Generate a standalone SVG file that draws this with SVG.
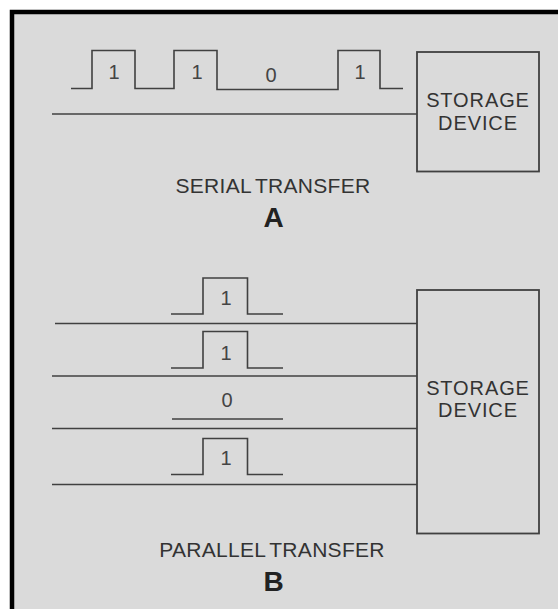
<svg xmlns="http://www.w3.org/2000/svg" width="558" height="609" viewBox="0 0 558 609">
<style>
.w{fill:none;stroke:#404040;stroke-width:1.6}
.box{fill:none;stroke:#404040;stroke-width:1.8}
.t{font-family:"Liberation Sans",Arial,sans-serif;fill:#333333}
.bit{font-size:20px;text-anchor:middle;fill:#444}
.lbl{font-size:20px;text-anchor:middle;letter-spacing:0.9px}
.cap{font-size:21px;text-anchor:middle;word-spacing:-2px;letter-spacing:0.3px}
.big{font-size:28px;font-weight:bold;text-anchor:middle;fill:#222}
</style>
<rect x="0" y="0" width="558" height="609" fill="#ffffff"/>
<rect x="12" y="12" width="548" height="600" fill="#dadada"/>
<path d="M12 609 V12 H558" fill="none" stroke="#000" stroke-width="4.5"/>

<g id="connectors">
<line class="w" x1="52" y1="114" x2="417" y2="114"/>
<line class="w" x1="55" y1="323.5" x2="417" y2="323.5"/>
<line class="w" x1="52" y1="376" x2="417" y2="376"/>
<line class="w" x1="52" y1="428.5" x2="417" y2="428.5"/>
<line class="w" x1="52" y1="484.5" x2="417" y2="484.5"/>
</g>

<g id="serial-signal">
<path class="w" d="M71 88.5 H92 V50.5 H135 V88.5 H174 V50.5 H217 V89.5 H338 V50.5 H380 V88.5 H403"/>
<text class="t bit" x="114" y="79">1</text>
<text class="t bit" x="197" y="79">1</text>
<text class="t bit" x="271" y="82">0</text>
<text class="t bit" x="360" y="79">1</text>
</g>

<g id="storage-a">
<rect class="box" x="417" y="52" width="122" height="119.5"/>
<text class="t lbl" x="478" y="107">STORAGE</text>
<text class="t lbl" x="478" y="129.5">DEVICE</text>
</g>

<g id="caption-a">
<text class="t cap" x="273" y="193.3">SERIAL TRANSFER</text>
<text class="t big" x="273.7" y="227.3">A</text>
</g>

<g id="parallel-signals">
<path class="w" d="M171 314 H203 V278 H247.5 V314 H283"/>
<text class="t bit" x="226" y="304.5">1</text>
<path class="w" d="M171 368 H203 V331.5 H247.5 V368 H283"/>
<text class="t bit" x="226" y="359.5">1</text>
<text class="t bit" x="227" y="407">0</text>
<line class="w" x1="172" y1="419" x2="283" y2="419"/>
<path class="w" d="M171 474.5 H203 V438.5 H247.5 V474.5 H283"/>
<text class="t bit" x="226" y="465">1</text>
</g>

<g id="storage-b">
<rect class="box" x="417" y="290" width="122" height="243.5"/>
<text class="t lbl" x="478" y="394.5">STORAGE</text>
<text class="t lbl" x="478" y="417">DEVICE</text>
</g>

<g id="caption-b">
<text class="t cap" x="272" y="557.3">PARALLEL TRANSFER</text>
<text class="t big" x="273.5" y="591">B</text>
</g>
</svg>
